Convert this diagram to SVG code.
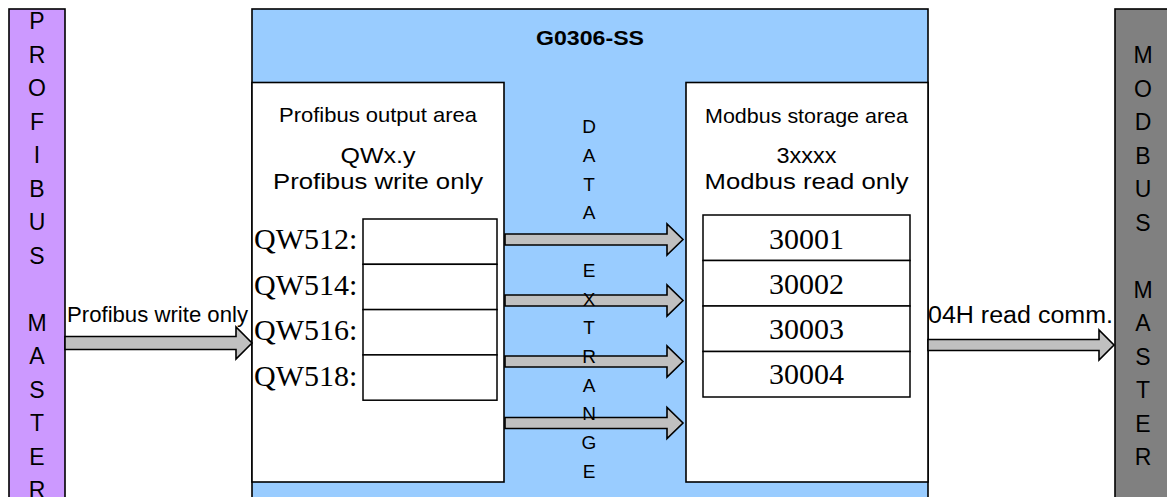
<svg xmlns="http://www.w3.org/2000/svg" width="1167" height="497" viewBox="0 0 1167 497">
<style>
  .box{stroke:#000;stroke-width:1.6}
  .arrow{fill:#C0C0C0;stroke:#000;stroke-width:1.6;stroke-linejoin:miter}
  .sans{font-family:"Liberation Sans",Arial,sans-serif;fill:#000}
  .serif{font-family:"Liberation Serif","Times New Roman",serif;fill:#000;font-size:30px}
  .vert{font-family:"Liberation Sans",Arial,sans-serif;font-size:23px;text-anchor:middle}
  .mid{font-family:"Liberation Sans",Arial,sans-serif;font-size:19px;text-anchor:middle}
  .row{fill:#fff;stroke:#000;stroke-width:1.5}
</style>
<rect width="1167" height="497" fill="#fff"/>

<g id="profibus-master">
  <rect class="box" x="9" y="9" width="56" height="500" fill="#CC99FF"/>
  <g class="vert">
    <text x="37" y="29">P</text><text x="37" y="62.5">R</text><text x="37" y="96">O</text>
    <text x="37" y="129.5">F</text><text x="37" y="163">I</text><text x="37" y="196.5">B</text>
    <text x="37" y="230">U</text><text x="37" y="263.5">S</text>
    <text x="37" y="330.5">M</text><text x="37" y="364">A</text><text x="37" y="397.5">S</text>
    <text x="37" y="431">T</text><text x="37" y="464.5">E</text><text x="37" y="498">R</text>
  </g>
</g>

<g id="g0306-ss">
  <rect class="box" x="252" y="9" width="676" height="500" fill="#99CCFF"/>
  <text class="sans" x="590" y="45" font-size="21px" font-weight="bold" text-anchor="middle" textLength="108" lengthAdjust="spacingAndGlyphs">G0306-SS</text>
</g>

<g id="profibus-output-area">
  <rect class="box" x="252" y="82.5" width="252" height="399.5" fill="#fff"/>
  <text class="sans" x="378" y="122" font-size="21px" text-anchor="middle" textLength="198" lengthAdjust="spacingAndGlyphs">Profibus output area</text>
  <text class="sans" x="378" y="163" font-size="22px" text-anchor="middle" textLength="75" lengthAdjust="spacingAndGlyphs">QWx.y</text>
  <text class="sans" x="378" y="189" font-size="22px" text-anchor="middle" textLength="210" lengthAdjust="spacingAndGlyphs">Profibus write only</text>
  <rect class="row" x="363" y="219" width="134" height="45.3"/>
  <rect class="row" x="363" y="264.3" width="134" height="45.3"/>
  <rect class="row" x="363" y="309.6" width="134" height="45.3"/>
  <rect class="row" x="363" y="354.9" width="134" height="45.3"/>
  <text class="serif" x="254" y="249">QW512:</text>
  <text class="serif" x="254" y="294.5">QW514:</text>
  <text class="serif" x="254" y="340">QW516:</text>
  <text class="serif" x="254" y="385.5">QW518:</text>
</g>

<g id="modbus-storage-area">
  <rect class="box" x="686" y="82.5" width="242" height="399.5" fill="#fff"/>
  <text class="sans" x="806.5" y="123" font-size="21px" text-anchor="middle" textLength="203" lengthAdjust="spacingAndGlyphs">Modbus storage area</text>
  <text class="sans" x="806.5" y="163" font-size="22px" text-anchor="middle" textLength="60" lengthAdjust="spacingAndGlyphs">3xxxx</text>
  <text class="sans" x="806.5" y="189" font-size="22px" text-anchor="middle" textLength="204" lengthAdjust="spacingAndGlyphs">Modbus read only</text>
  <rect class="row" x="703" y="215" width="207" height="45.5"/>
  <rect class="row" x="703" y="260.5" width="207" height="45.5"/>
  <rect class="row" x="703" y="306" width="207" height="45.5"/>
  <rect class="row" x="703" y="351.5" width="207" height="45.5"/>
  <g class="serif" text-anchor="middle">
    <text x="806.5" y="248.5">30001</text>
    <text x="806.5" y="293.5">30002</text>
    <text x="806.5" y="339">30003</text>
    <text x="806.5" y="384">30004</text>
  </g>
</g>

<g id="modbus-master">
  <rect class="box" x="1115" y="9" width="60" height="500" fill="#808080"/>
  <g class="vert">
    <text x="1143" y="63">M</text><text x="1143" y="96.5">O</text><text x="1143" y="130">D</text>
    <text x="1143" y="163.5">B</text><text x="1143" y="197">U</text><text x="1143" y="230.5">S</text>
    <text x="1143" y="297.5">M</text><text x="1143" y="331">A</text><text x="1143" y="364.5">S</text>
    <text x="1143" y="398">T</text><text x="1143" y="431.5">E</text><text x="1143" y="465">R</text>
  </g>
</g>

<g id="connectors">
  <path class="arrow" d="M65,336.5 H236 V327 L252,343 L236,359 V349.5 H65 Z"/>
  <path class="arrow" d="M505,234 H667 V224 L683,239.5 L667,255 V245 H505 Z"/>
  <path class="arrow" d="M505,295 H667 V285 L683,300.5 L667,316 V306 H505 Z"/>
  <path class="arrow" d="M505,356 H667 V346 L683,361.5 L667,377 V367 H505 Z"/>
  <path class="arrow" d="M505,417.5 H667 V407.5 L683,423 L667,438.5 V428.5 H505 Z"/>
  <path class="arrow" d="M928,339.5 H1099 V330 L1114,345 L1099,360 V350.5 H928 Z"/>
  <text class="sans" x="67" y="321.5" font-size="21.5px" textLength="181" lengthAdjust="spacingAndGlyphs">Profibus write only</text>
  <text class="sans" x="928" y="322.5" font-size="23px" textLength="185" lengthAdjust="spacingAndGlyphs">04H read comm.</text>
  <g class="mid">
    <text x="589" y="133">D</text><text x="589" y="162">A</text><text x="589" y="190.5">T</text>
    <text x="589" y="219">A</text>
    <text x="589" y="277">E</text><text x="589" y="305.5">X</text><text x="589" y="334">T</text>
    <text x="589" y="363">R</text><text x="589" y="391.5">A</text><text x="589" y="420">N</text>
    <text x="589" y="449">G</text><text x="589" y="477.5">E</text>
  </g>
</g>
</svg>
